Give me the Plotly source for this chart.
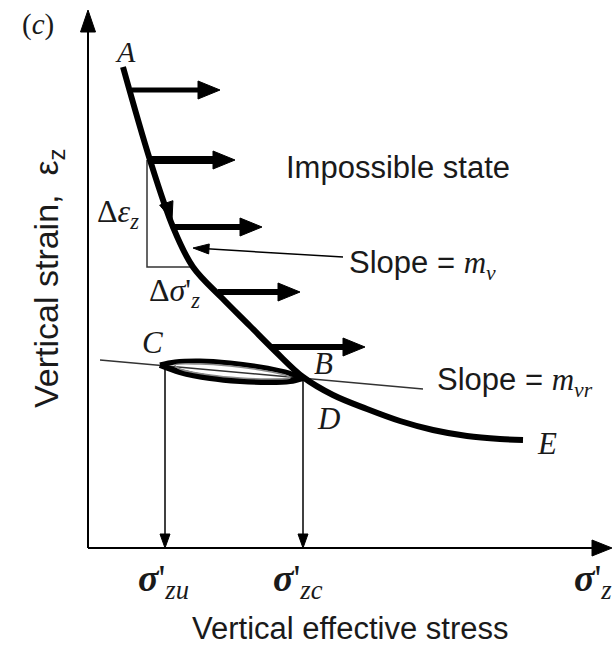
import plotly.graph_objects as go
import math

# ---- data (abstract units: stress along x, strain along y) ----
curve_x = [35, 62, 85, 105, 134, 162, 188, 215, 245, 279, 312, 345, 379, 412, 435]
curve_y = [481, 388, 321, 281, 250, 222, 196, 171, 153, 139, 127, 118, 112, 109, 108]

loop_upper_x = [72, 87, 112, 142, 172, 197, 215]
loop_upper_y = [183, 186, 187, 185, 181, 176, 170]
loop_lower_x = [72, 92, 122, 152, 182, 202, 215]
loop_lower_y = [183, 176, 170, 167, 166, 167, 170]

state_arrow_y = [458, 388, 321, 256, 201]
state_arrow_x0 = [44, 62, 87, 130, 182]
state_arrow_x1 = [132, 147, 174, 212, 277]

sigma_zu = 77
sigma_zc = 215
eps_C = 183
eps_B = 170

mvr_x = [12, 335]
mvr_y = [188, 159]

tri_x = [59, 59, 105]
tri_y = [388, 281, 281]

axis_x_max = 524
axis_y_max = 538

fig = go.Figure()


def add_line(xs, ys, width, color="black", shape="linear"):
    fig.add_trace(go.Scatter(x=xs, y=ys, mode="lines",
                             line=dict(color=color, width=width, shape=shape),
                             hoverinfo="skip", showlegend=False))


def add_arrow(x0, y0, x1, y1, width, head_len, head_w, color="black"):
    dx, dy = x1 - x0, y1 - y0
    L = math.hypot(dx, dy)
    ux, uy = dx / L, dy / L
    bx, by = x1 - ux * head_len, y1 - uy * head_len
    add_line([x0, bx + ux * 2], [y0, by + uy * 2], width, color)
    fig.add_trace(go.Scatter(
        x=[x1, bx - uy * head_w, bx + uy * head_w, x1],
        y=[y1, by + ux * head_w, by - ux * head_w, y1],
        mode="lines", fill="toself", fillcolor=color,
        line=dict(color=color, width=1), hoverinfo="skip", showlegend=False))


# axes
add_arrow(0, 0, 0, axis_y_max, 2, 22, 7.5)
add_arrow(0, 0, axis_x_max, 0, 2, 20, 8)

# slope triangle
add_line(tri_x, tri_y, 1.5, "#333333")

# unload/reload line
add_line(mvr_x, mvr_y, 1.5, "#333333")

# main compression curve
add_line(curve_x, curve_y, 6, "black", "spline")

# small arrowhead on curve
add_arrow(78, 346, 84, 328, 1, 18, 7)

# state arrows
arrow_widths = [5, 8, 6, 6, 6]
for x0, x1, y, w in zip(state_arrow_x0, state_arrow_x1, state_arrow_y, arrow_widths):
    add_arrow(x0, y, x1, y, w, 22, 9)

# hysteresis loop
add_line(loop_upper_x, loop_upper_y, 5, "black", "spline")
add_line(loop_lower_x, loop_lower_y, 6, "black", "spline")
inner_x = loop_upper_x[1:-1] + loop_lower_x[-2:0:-1]
inner_y = [v - 3 for v in loop_upper_y[1:-1]] + [v + 3 for v in loop_lower_y[-2:0:-1]]
add_line(inner_x + inner_x[:1], inner_y + inner_y[:1], 1.5, "#8a8a8a", "spline")

# drop lines to axis
add_arrow(sigma_zu, eps_C, sigma_zu, 0, 1.5, 14, 5)
add_arrow(sigma_zc, eps_B, sigma_zc, 0, 1.5, 14, 5)

# leader to curve (Slope = m_v)
add_arrow(255, 291, 105, 300, 1.5, 16, 5)

SANS = "Liberation Sans"
SERIF = "Liberation Serif"
ann = []


def text(x, y, t, family, size, xanchor="center", angle=0):
    ann.append(dict(x=x, y=y, xref="x", yref="y", text=t, showarrow=False,
                    xanchor=xanchor, yanchor="middle", textangle=angle,
                    font=dict(family=family, size=size, color="#1a1a1a")))


text(-50, 524, "(<i>c</i>)", SERIF, 29)
text(37, 497, "<i>A</i>", SERIF, 30)
text(310, 381, "Impossible state", SANS, 31)
text(30, 335, "Δ<i>ε<sub>z</sub></i>", SERIF, 32)
text(86, 256, "Δ<i>σ</i>'<sub><i>z</i></sub>", SERIF, 32)
text(259, 283, "Slope = <i><span style='font-family:Liberation Serif'>m<sub>v</sub></span></i>", SANS, 31, "left")
text(347, 166, "Slope = <i><span style='font-family:Liberation Serif'>m<sub>vr</sub></span></i>", SANS, 31, "left")
text(64, 206, "<i>C</i>", SERIF, 31)
text(235, 185, "<i>B</i>", SERIF, 31)
text(240, 130, "<i>D</i>", SERIF, 31)
text(459, 105, "<i>E</i>", SERIF, 31)
text(75, -33, "<b><i>σ</i></b>'<sub><i>zu</i></sub>", SERIF, 38)
text(210, -33, "<b><i>σ</i></b>'<sub><i>zc</i></sub>", SERIF, 38)
text(505, -33, "<b><i>σ</i></b>'<sub><i>z</i></sub>", SERIF, 38)
text(262, -80, "Vertical effective stress", SANS, 31)
text(-40, 270, "Vertical strain,  ε<sub>z</sub>", SANS, 34, angle=-90)

fig.update_layout(
    width=615, height=646,
    margin=dict(l=0, r=0, t=0, b=0),
    paper_bgcolor="white", plot_bgcolor="white",
    xaxis=dict(range=[-88, 527], visible=False, fixedrange=True),
    yaxis=dict(range=[-98, 548], visible=False, fixedrange=True),
    annotations=ann,
)

fig.write_html("out.html", config={"displayModeBar": False},
               post_script="document.body.style.margin='0px';document.body.style.overflow='hidden';")
